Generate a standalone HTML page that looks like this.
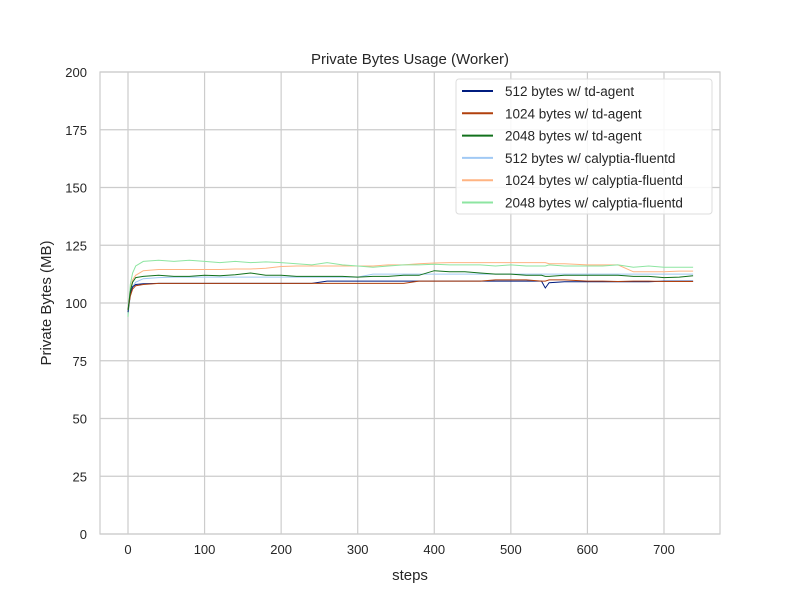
<!DOCTYPE html>
<html><head><meta charset="utf-8"><style>
body{margin:0;background:#fff}
svg text{font-family:"Liberation Sans","DejaVu Sans",sans-serif;fill:#262626}
</style></head><body>
<svg id="chart" width="800" height="600">
<rect width="800" height="600" fill="#fff"/>
<g id="grid"></g>
<g id="series"></g>
<rect x="100" y="72" width="620" height="462" fill="none" stroke="#cccccc" stroke-width="1.2"/>
<text x="410" y="64" text-anchor="middle" font-size="15">Private Bytes Usage (Worker)</text>
<text x="410" y="580" text-anchor="middle" font-size="15">steps</text>
<text x="51" y="303" text-anchor="middle" font-size="15" transform="rotate(-90 51 303)">Private Bytes (MB)</text>
<g id="ticks"></g>
<g id="legend"></g>
</svg>
<script>
const steps=[0,3,6,10,20,40,60,80,100,120,140,160,180,200,220,240,260,280,300,320,340,360,380,400,420,440,460,480,500,520,540,545,550,570,600,620,640,660,680,700,720,738];
const s512td=[96,104,107,108,108.3,108.5,108.5,108.5,108.5,108.5,108.5,108.5,108.5,108.5,108.5,108.5,109.5,109.5,109.5,109.5,109.5,109.5,109.5,109.5,109.5,109.5,109.5,109.5,109.5,109.5,109.5,106.5,108.8,109.2,109.2,109.2,109.2,109.2,109.2,109.5,109.5,109.5];
const s1024td=[97,103,106,107.5,108,108.5,108.5,108.5,108.5,108.5,108.5,108.5,108.5,108.5,108.5,108.5,108.5,108.5,108.5,108.5,108.5,108.5,109.5,109.5,109.5,109.5,109.5,110,110,110,109.5,109.5,110,110,109.5,109.5,109.3,109.5,109.5,109.3,109.3,109.3];
const s2048td=[97,105,109,111,111.5,112,111.5,111.5,112,111.8,112.2,113,112,112,111.5,111.5,111.5,111.5,111.2,111.5,111.5,112,112,114,113.5,113.5,113,112.5,112.5,112,112,111.5,111.5,112,112,112,112,111.5,111.5,111,111.2,111.8];
const s512cf=[95,103,107,109,110.5,111,111.2,111.2,111.2,111.2,111.2,111.2,111.2,111.2,111.2,111.2,111.2,111.2,111.2,112.5,112.5,112.5,112.5,112.5,112.5,112.5,112.5,112.5,112.5,112.5,112.5,112.5,112.5,112.5,112.5,112.5,112.5,112.5,112.5,112.5,112.5,112.5];
const s1024cf=[96,106,110,112,114,114.5,114.5,114.5,114.5,114.5,114.7,114.7,115,115.8,116,116,116,116,116,116,116.5,116.5,117,117.3,117.5,117.5,117.5,117.5,117.5,117.5,117.5,117.5,117,117,116.5,116.5,116.5,113.5,113.5,113.5,113.8,113.8];
const s2048cf=[94,108,113,116,118,118.5,118,118.5,118,117.5,118,117.5,117.8,117.5,117,116.5,117.5,116.5,116,115.5,116,116.5,116.5,116.8,116.5,116.5,116.5,116,116.5,116,116,116,116.5,116,116,116,116.5,115.5,116,115.5,115.5,115.5];
const seriesNames=["512 bytes w/ td-agent","1024 bytes w/ td-agent","2048 bytes w/ td-agent","512 bytes w/ calyptia-fluentd","1024 bytes w/ calyptia-fluentd","2048 bytes w/ calyptia-fluentd"];
const xTicks=[0,100,200,300,400,500,600,700];
const yTicks=[0,25,50,75,100,125,150,175,200];
const colors=["#001c7f","#b1400d","#12711c","#a1c9f4","#ffb482","#8de5a1"];
const all=[s512td,s1024td,s2048td,s512cf,s1024cf,s2048cf];
const X=v=>128+v*0.7657, Y=v=>534-v*2.31;
const NS="http://www.w3.org/2000/svg";
const mk=(p,t,a)=>{const e=document.createElementNS(NS,t);for(const k in a)e.setAttribute(k,a[k]);p.appendChild(e);return e;};
const grid=document.getElementById('grid'),ticks=document.getElementById('ticks');
xTicks.forEach(v=>{const l=mk(grid,'line',{x1:X(v),x2:X(v),y1:72,y2:534,stroke:'#cccccc','stroke-width':1.2});


const t=mk(ticks,'text',{x:X(v),y:554,'text-anchor':'middle','font-size':13});t.textContent=v;

});
yTicks.forEach(v=>{const l=mk(grid,'line',{x1:100,x2:720,y1:Y(v),y2:Y(v),stroke:'#cccccc','stroke-width':1.2});


const t=mk(ticks,'text',{x:87,y:Y(v)+5,'text-anchor':'end','font-size':13});t.textContent=v;

});
const sg=document.getElementById('series');
[3,4,5,0,1,2].forEach(i=>{const d=all[i].map((v,j)=>(j?'L':'M')+X(steps[j]).toFixed(1)+' '+Y(v).toFixed(1)).join('');
const p=mk(sg,'path',{d:d,fill:'none',stroke:colors[i],'stroke-width':1});

});
const lg=document.getElementById('legend');
const box=mk(lg,'rect',{x:456,y:79,width:256,height:135,rx:3,fill:'#fff','fill-opacity':0.85,stroke:'#dddddd'});


seriesNames.forEach((n,i)=>{const y=91+i*22.3;
const l=mk(lg,'line',{x1:462,x2:493,y1:y,y2:y,stroke:colors[i],'stroke-width':2});


const t=mk(lg,'text',{x:505,y:y+5,'font-size':13.5});t.textContent=n;

});
</script>
</body></html>
